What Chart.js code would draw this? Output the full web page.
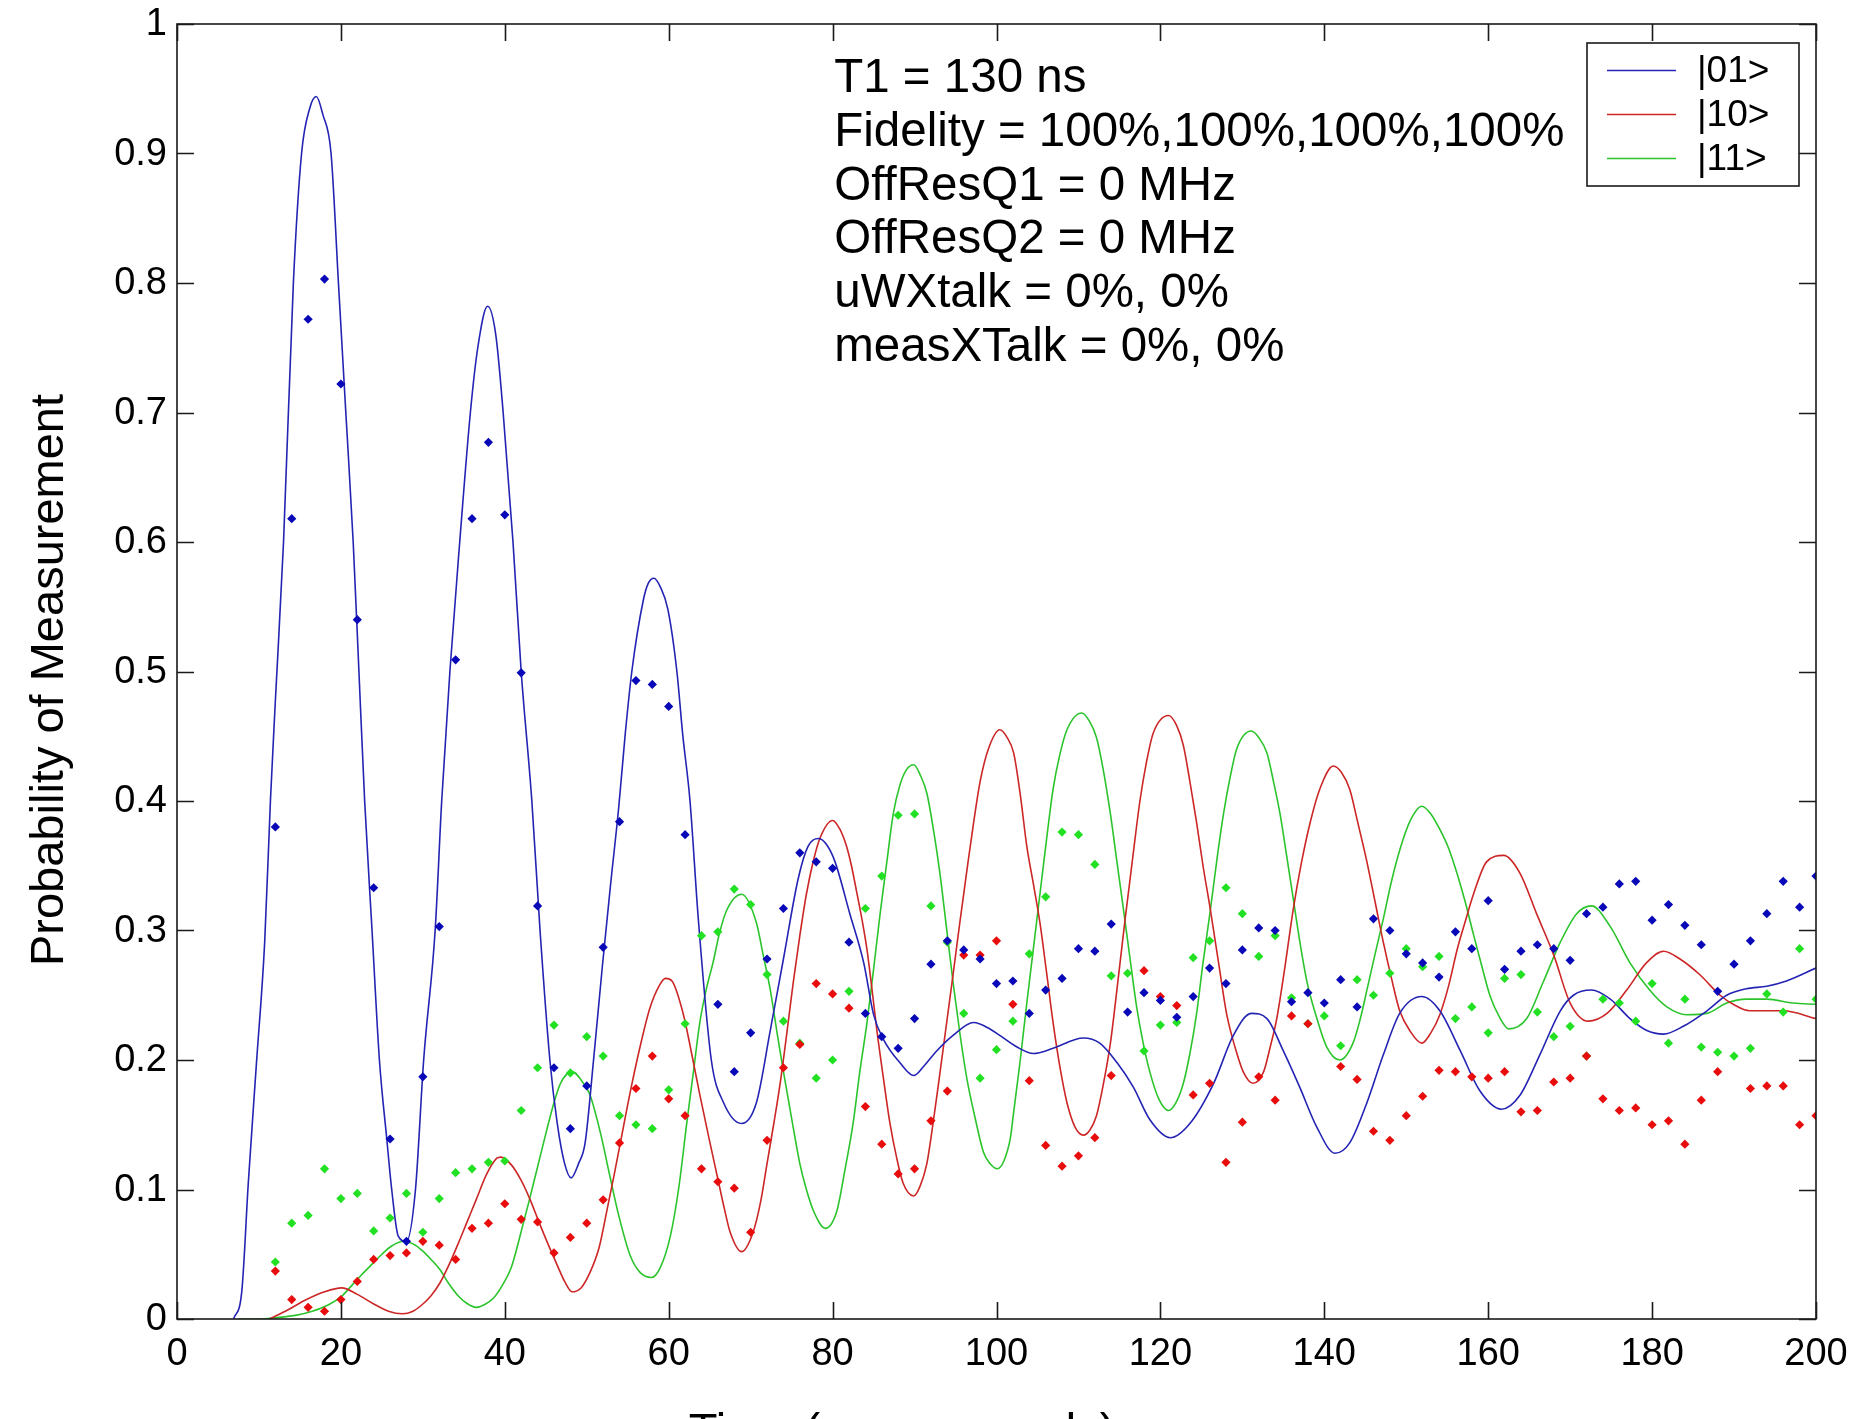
<!DOCTYPE html>
<html>
<head>
<meta charset="utf-8">
<script src="https://cdn.jsdelivr.net/npm/chart.js@4.4.1/dist/chart.umd.min.js"></script>
<style>
  html, body { margin: 0; padding: 0; background: #fff; }
  #wrap { width: 1853px; height: 1419px; }
</style>
</head>
<body>
<div id="wrap"><canvas id="chart" width="1853" height="1419"></canvas></div>
<script>
// axis ticks
const xTicks = [0, 20, 40, 60, 80, 100, 120, 140, 160, 180, 200];
const yTicks = [0, 0.1, 0.2, 0.3, 0.4, 0.5, 0.6, 0.7, 0.8, 0.9, 1];

const legendLabels = ['|01>', '|10>', '|11>'];
const notes = [
  'T1 = 130 ns',
  'Fidelity = 100%,100%,100%,100%',
  'OffResQ1 = 0 MHz',
  'OffResQ2 = 0 MHz',
  'uWXtalk = 0%, 0%',
  'measXTalk = 0%, 0%',
];

// measured points (ns); null = hidden under the curve
const dotTimes = [
  12, 14, 16, 18, 20, 22, 24, 26, 28, 30,
  32, 34, 36, 38, 40, 42, 44, 46, 48, 50,
  52, 54, 56, 58, 60, 62, 64, 66, 68, 70,
  72, 74, 76, 78, 80, 82, 84, 86, 88, 90,
  92, 94, 96, 98, 100, 102, 104, 106, 108, 110,
  112, 114, 116, 118, 120, 122, 124, 126, 128, 130,
  132, 134, 136, 138, 140, 142, 144, 146, 148, 150,
  152, 154, 156, 158, 160, 162, 164, 166, 168, 170,
  172, 174, 176, 178, 180, 182, 184, 186, 188, 190,
  192, 194, 196, 198, 200,
];
const dots01 = [
  0.38, 0.618, 0.772, 0.803, 0.722, 0.54, 0.333, 0.139, 0.06, 0.187,
  0.303, 0.509, 0.618, 0.677, 0.621, 0.499, 0.319, 0.194, 0.147, 0.18,
  0.287, 0.384, 0.493, 0.49, 0.473, 0.374, null, 0.243, 0.191, 0.221,
  0.278, 0.317, 0.36, 0.353, 0.348, 0.291, 0.236, 0.218, 0.209, 0.232,
  0.274, 0.292, 0.285, 0.278, 0.259, 0.261, 0.236, 0.254, 0.263, 0.286,
  0.284, 0.305, 0.237, 0.252, 0.246, 0.233, 0.249, 0.271, 0.259, 0.285,
  0.302, 0.3, 0.245, 0.252, 0.244, 0.262, 0.241, 0.309, 0.3, 0.282,
  0.275, 0.264, 0.299, 0.286, 0.323, 0.27, 0.284, 0.289, 0.286, 0.277,
  0.313, 0.318, 0.336, 0.338, 0.308, 0.32, 0.304, 0.289, 0.253, 0.274,
  0.292, 0.313, 0.338, 0.318, 0.342,
];
const dots10 = [
  0.037, 0.015, 0.009, 0.006, 0.015, 0.029, 0.046, 0.049, 0.051, 0.06,
  0.057, 0.046, 0.07, 0.074, 0.089, 0.077, 0.075, 0.051, 0.063, 0.074,
  0.092, 0.136, 0.178, 0.203, 0.17, 0.157, 0.116, 0.106, 0.101, 0.067,
  0.138, 0.194, 0.212, 0.259, 0.251, 0.24, 0.164, 0.135, 0.112, 0.116,
  0.153, 0.176, 0.281, 0.281, 0.292, 0.243, 0.184, 0.134, 0.118, 0.126,
  0.14, 0.188, null, 0.269, 0.249, 0.242, 0.173, 0.182, 0.121, 0.152,
  0.187, 0.169, 0.234, 0.228, null, 0.195, 0.185, 0.145, 0.138, 0.157,
  0.172, 0.192, 0.191, 0.187, 0.186, 0.191, 0.16, 0.161, 0.183, 0.186,
  0.203, 0.17, 0.161, 0.163, 0.15, 0.153, 0.135, 0.169, 0.191, null,
  0.178, 0.18, 0.18, 0.15, 0.157,
];
const dots11 = [
  0.044, 0.074, 0.08, 0.116, 0.093, 0.097, 0.068, 0.078, 0.097, 0.067,
  0.093, 0.113, 0.116, 0.121, 0.122, 0.161, 0.194, 0.227, 0.19, 0.218,
  0.203, 0.157, 0.15, 0.147, 0.177, 0.228, 0.296, 0.299, 0.332, 0.32,
  0.266, 0.23, 0.213, 0.186, 0.2, 0.253, 0.317, 0.342, 0.389, 0.39,
  0.319, 0.291, 0.236, 0.186, 0.208, 0.23, 0.282, 0.326, 0.376, 0.374,
  0.351, 0.265, 0.267, 0.207, 0.227, 0.229, 0.279, 0.292, 0.333, 0.313,
  0.28, 0.296, 0.248, 0.228, 0.234, 0.211, 0.262, 0.25, 0.267, 0.286,
  0.272, 0.28, 0.232, 0.241, 0.221, 0.263, 0.266, 0.237, 0.218, 0.226,
  0.203, 0.247, 0.244, 0.23, 0.259, 0.213, 0.247, 0.21, 0.206, 0.203,
  0.209, 0.251, 0.237, 0.286, 0.247,
];

// simulated curves
const curve01T = [
  6.9, 7.9, 8.7, 9.7, 10.7, 11.4, 12.0, 13.0, 14.2, 15.2, 16.2, 17.0, 17.8, 18.8, 19.7,
  20.6, 21.5, 22.2, 22.9, 23.8, 24.7, 25.6, 26.2, 27.0, 28.0, 29.1, 30.1, 31.5, 32.3,
  33.3, 34.5, 35.8, 36.7, 37.9, 38.9, 39.8, 41.0, 42.0, 43.3, 44.3, 45.5, 46.4,
  47.3, 48.1, 49.0, 49.8, 50.8, 51.9, 52.9, 53.9, 54.7, 55.5, 56.9, 57.5, 58.2, 59.0,
  59.9, 61.0, 61.7, 62.6, 63.6, 65.2, 66.7, 68.9, 70.7, 72.4, 74.0, 75.8, 77.0, 78.3,
  79.3, 80.3, 82.1, 83.8, 85.0, 86.2, 88.2, 89.9, 91.1, 92.7, 94.7, 97.2, 99.2, 100.4,
  102.5, 104.5, 106.9, 110.6, 112.6, 114.7, 116.7, 118.7, 121.2, 123.6, 126.5, 128.9,
  131.1, 133.0, 135.0, 137.0, 139.1, 141.3, 143.1, 145.2, 147.2, 149.2, 151.9, 154.1,
  156.6, 159.0, 161.6, 163.9, 166.3, 168.8, 170.4, 172.6, 174.9, 177.3, 179.3, 181.4,
  183.8, 186.7, 189.1, 191.5, 194.0, 196.4, 200.0,
];
const curve01P = [
  0, 0.021, 0.105, 0.198, 0.291, 0.4, 0.477, 0.6, 0.8, 0.9, 0.935, 0.944, 0.93, 0.9, 0.8,
  0.7, 0.6, 0.5, 0.4, 0.3, 0.2, 0.139, 0.1, 0.064, 0.06, 0.1, 0.2, 0.3, 0.4,
  0.5, 0.6, 0.7, 0.75, 0.782, 0.76, 0.7, 0.6, 0.5, 0.4, 0.3, 0.2, 0.151,
  0.12, 0.109, 0.12, 0.136, 0.198, 0.272, 0.335, 0.395, 0.452, 0.5, 0.555, 0.568, 0.572, 0.565,
  0.548, 0.5, 0.452, 0.4, 0.31, 0.2, 0.167, 0.151, 0.167, 0.223, 0.278, 0.34, 0.365, 0.371,
  0.366, 0.353, 0.313, 0.275, 0.235, 0.216, 0.198, 0.188, 0.195, 0.207, 0.219, 0.229, 0.224, 0.219,
  0.21, 0.205, 0.209, 0.217, 0.213, 0.198, 0.179, 0.154, 0.14, 0.151, 0.182, 0.219,
  0.236, 0.232, 0.207, 0.179, 0.148, 0.128, 0.136, 0.167, 0.204, 0.236, 0.249, 0.238,
  0.207, 0.176, 0.162, 0.173, 0.204, 0.238, 0.25, 0.254, 0.247, 0.232, 0.223, 0.22,
  0.226, 0.238, 0.25, 0.255, 0.257, 0.261, 0.271,
];
const curve10T = [
  11.3, 13.5, 15.8, 18.0, 20.1, 22.0, 23.9, 25.8, 27.5, 28.8, 29.9, 31.0, 32.1, 33.2,
  34.3, 35.4, 36.5, 37.8, 39.0, 39.5, 40.8, 42.0, 43.1, 44.1, 45.2, 46.3, 47.3, 48.2,
  49.3, 50.4, 51.5, 52.5, 53.3, 54.1, 55.3, 56.5, 57.7, 58.9, 59.6, 60.4, 61.8, 62.8,
  63.8, 64.9, 65.9, 66.8, 67.5, 68.9, 70.3, 71.2, 72.0, 72.8, 73.6, 74.4, 75.2, 76.0,
  76.8, 77.7, 78.5, 80.0, 80.9, 81.7, 82.3, 82.9, 83.6, 84.2, 84.8, 85.4, 86.2, 87.0,
  87.8, 88.6, 89.9, 90.7, 91.5, 92.3, 93.1, 93.9, 94.7, 95.5, 96.4, 97.2, 98.0, 99.0,
  100.4, 101.3, 102.1, 102.9, 103.7, 104.5, 105.3, 106.1, 106.9, 107.7, 108.6, 109.6,
  110.6, 111.4, 112.2, 113.0, 113.9, 114.8, 115.7, 116.6, 117.5, 118.3, 119.1, 121.0,
  122.0, 122.8, 123.6, 124.4, 125.2, 126.1, 127.1, 128.1, 129.1, 130.1, 131.3, 132.6,
  133.4, 134.2, 135.2, 136.2, 137.2, 138.3, 139.5, 141.1, 142.1, 143.1, 144.1, 145.2,
  146.2, 147.2, 148.2, 149.2, 150.5, 151.9, 153.0, 154.1, 155.2, 156.2, 157.2, 158.2,
  159.8, 161.9, 163.9, 165.9, 168.0, 170.0, 172.2, 174.5, 176.9, 179.3, 181.4, 183.4,
  185.8, 188.3, 189.9, 191.9, 196.0, 200.0,
];
const curve10P = [
  0, 0.007, 0.015, 0.021, 0.024, 0.019, 0.012, 0.006, 0.004, 0.006, 0.011, 0.018, 0.028, 0.042,
  0.058, 0.075, 0.092, 0.112, 0.124, 0.125, 0.119, 0.107, 0.092, 0.076, 0.059, 0.043, 0.029, 0.021,
  0.024, 0.036, 0.055, 0.085, 0.11, 0.136, 0.175, 0.21, 0.24, 0.258, 0.263, 0.261, 0.235, 0.205,
  0.173, 0.14, 0.111, 0.085, 0.067, 0.052, 0.067, 0.09, 0.12, 0.15, 0.182, 0.22, 0.26, 0.296,
  0.328, 0.355, 0.372, 0.385, 0.378, 0.365, 0.35, 0.331, 0.308, 0.285, 0.255, 0.223, 0.186, 0.151,
  0.125, 0.105, 0.095, 0.103, 0.12, 0.153, 0.19, 0.228, 0.266, 0.305, 0.347, 0.383, 0.415, 0.44,
  0.455, 0.449, 0.437, 0.405, 0.365, 0.336, 0.306, 0.268, 0.229, 0.196, 0.167, 0.148,
  0.142, 0.146, 0.157, 0.18, 0.213, 0.26, 0.309, 0.355, 0.4, 0.43, 0.452, 0.466,
  0.458, 0.443, 0.415, 0.384, 0.35, 0.316, 0.275, 0.235, 0.21, 0.191, 0.182, 0.191,
  0.21, 0.232, 0.272, 0.316, 0.352, 0.384, 0.41, 0.427, 0.422, 0.409, 0.383, 0.353,
  0.322, 0.291, 0.263, 0.238, 0.222, 0.213, 0.221, 0.235, 0.258, 0.285, 0.307, 0.328,
  0.353, 0.358, 0.344, 0.313, 0.281, 0.244, 0.23, 0.236, 0.254, 0.275, 0.284, 0.278,
  0.266, 0.25, 0.243, 0.238, 0.238, 0.232,
];
const curve11T = [
  7.5, 10.0, 12.0, 14.6, 16.5, 18.5, 20.0, 21.2, 22.5, 23.9, 25.0, 26.1, 27.7, 28.8,
  29.9, 31.0, 32.1, 33.2, 34.3, 35.4, 36.5, 37.5, 38.6, 39.7, 40.8, 41.9, 43.0, 44.1,
  45.2, 46.0, 46.8, 48.2, 49.8, 50.4, 51.7, 52.8, 53.9, 55.3, 56.5, 57.9, 59.0, 60.2,
  61.2, 62.2, 63.0, 63.8, 64.6, 65.4, 66.2, 67.1, 68.9, 70.7, 71.5, 72.4, 73.2, 74.0,
  75.0, 76.0, 76.8, 77.7, 79.1, 80.5, 81.5, 82.5, 83.3, 84.2, 85.0, 85.8, 86.6, 87.4,
  88.2, 89.0, 89.9, 90.7, 91.5, 92.3, 93.1, 93.9, 94.7, 95.5, 96.4, 97.4, 98.4, 99.2,
  100.1, 100.9, 101.7, 102.1, 102.9, 103.7, 104.5, 105.3, 106.1, 106.9, 107.7, 108.6,
  110.4, 111.3, 112.2, 113.0, 113.9, 114.7, 115.5, 116.3, 117.1, 117.9, 118.7, 119.8,
  121.0, 121.9, 122.8, 123.6, 124.4, 125.2, 126.1, 126.9, 127.7, 128.5, 129.3, 131.1,
  132.0, 133.0, 133.8, 134.6, 135.4, 136.2, 137.0, 137.9, 139.1, 140.3, 141.9, 143.5,
  144.4, 145.2, 146.2, 147.2, 148.2, 149.2, 150.5, 151.9, 153.0, 154.1, 155.2, 156.2,
  157.2, 158.2, 159.2, 160.2, 161.3, 162.5, 164.7, 166.7, 168.8, 170.8, 172.6, 174.9,
  177.3, 179.7, 181.8, 184.2, 186.7, 189.1, 191.5, 194.0, 197.2, 200.0,
];
const curve11P = [
  0, 0, 0.001, 0.003, 0.006, 0.011, 0.017, 0.025, 0.034, 0.043, 0.05, 0.056, 0.06, 0.058,
  0.053, 0.046, 0.038, 0.027, 0.018, 0.012, 0.009, 0.011, 0.016, 0.026, 0.04, 0.065, 0.092, 0.12,
  0.148, 0.167, 0.182, 0.191, 0.18, 0.173, 0.143, 0.111, 0.08, 0.049, 0.036, 0.032, 0.04, 0.064,
  0.1, 0.151, 0.19, 0.229, 0.255, 0.275, 0.298, 0.316, 0.328, 0.306, 0.282, 0.254, 0.222, 0.191,
  0.155, 0.12, 0.1, 0.083, 0.07, 0.083, 0.115, 0.151, 0.19, 0.229, 0.27, 0.313, 0.352, 0.39,
  0.412, 0.424, 0.428, 0.42, 0.406, 0.378, 0.344, 0.302, 0.26, 0.222, 0.185, 0.155, 0.129, 0.12,
  0.116, 0.122, 0.14, 0.16, 0.2, 0.244, 0.286, 0.328, 0.37, 0.409, 0.435, 0.455,
  0.468, 0.462, 0.449, 0.425, 0.39, 0.353, 0.316, 0.278, 0.241, 0.213, 0.191, 0.17,
  0.161, 0.167, 0.182, 0.205, 0.235, 0.275, 0.316, 0.355, 0.39, 0.418, 0.44, 0.454,
  0.449, 0.437, 0.415, 0.39, 0.358, 0.325, 0.292, 0.26, 0.232, 0.21, 0.2, 0.213,
  0.232, 0.254, 0.282, 0.309, 0.338, 0.362, 0.385, 0.396, 0.39, 0.378, 0.363, 0.344,
  0.322, 0.297, 0.273, 0.25, 0.234, 0.224, 0.232, 0.26, 0.291, 0.313, 0.319, 0.303,
  0.275, 0.254, 0.241, 0.235, 0.236, 0.244, 0.247, 0.247, 0.244, 0.243,
];

const FONT = '"Liberation Sans", Arial, Helvetica, sans-serif';
const lineColors = ['#2424b4', '#cc2626', '#2cc42c'];
const dotColors = ['#0808b8', '#e80c0c', '#22e022'];

const pairs = (ts, ps) => ts.map((t, i) => ({ x: t, y: ps[i] }));

function curveSet(label, ts, ps, color) {
  return {
    label, data: pairs(ts, ps), showLine: true, borderColor: color, borderWidth: 1.6,
    pointRadius: 0, cubicInterpolationMode: 'monotone', order: 2,
  };
}
function dotSet(label, ps, color) {
  return {
    label, data: pairs(dotTimes, ps), showLine: false, pointStyle: 'rectRot',
    pointRadius: 4.6, pointBorderWidth: 0, backgroundColor: color, borderColor: color, order: 1,
  };
}

// MATLAB-style frame: box, inward ticks, labels, note text and legend
const frame = {
  id: 'frame',
  beforeDraw(chart) {
    const ctx = chart.ctx;
    ctx.save();
    ctx.fillStyle = '#fff';
    ctx.fillRect(0, 0, chart.width, chart.height);
    ctx.restore();
  },
  afterDraw(chart) {
    const ctx = chart.ctx;
    const { left, right, top, bottom } = chart.chartArea;
    const xs = chart.scales.x, ys = chart.scales.y;
    const tick = 17;
    ctx.save();
    ctx.strokeStyle = '#1a1a1a';
    ctx.lineWidth = 1.6;
    ctx.strokeRect(left, top, right - left, bottom - top);

    ctx.beginPath();
    xTicks.forEach(v => {
      const px = Math.round(xs.getPixelForValue(v)) + 0.5;
      ctx.moveTo(px, bottom); ctx.lineTo(px, bottom - tick);
      ctx.moveTo(px, top); ctx.lineTo(px, top + tick);
    });
    yTicks.forEach(v => {
      const py = Math.round(ys.getPixelForValue(v)) + 0.5;
      ctx.moveTo(left, py); ctx.lineTo(left + tick, py);
      ctx.moveTo(right, py); ctx.lineTo(right - tick, py);
    });
    ctx.stroke();

    ctx.fillStyle = '#000';
    ctx.font = `38px ${FONT}`;
    ctx.textAlign = 'center';
    ctx.textBaseline = 'top';
    xTicks.forEach(v => ctx.fillText(String(v), xs.getPixelForValue(v), bottom + 17));
    ctx.textAlign = 'right';
    ctx.textBaseline = 'middle';
    yTicks.forEach(v => ctx.fillText(String(v), left - 10, ys.getPixelForValue(v) + 1));

    // axis titles
    ctx.font = `47px ${FONT}`;
    ctx.textAlign = 'center';
    ctx.textBaseline = 'alphabetic';
    ctx.fillText('Time (nanoseconds)', 902, 1446);
    ctx.save();
    ctx.translate(63, 680);
    ctx.rotate(-Math.PI / 2);
    ctx.fillText('Probability of Measurement', 0, 0);
    ctx.restore();

    // parameter notes
    ctx.font = `47.5px ${FONT}`;
    ctx.textAlign = 'left';
    const nx = xs.getPixelForValue(80.2);
    notes.forEach((s, i) => ctx.fillText(s, nx, 92 + i * 53.8));

    // legend
    const lx = 1587, ly = 43, lw = 212, lh = 143;
    ctx.fillStyle = '#fff';
    ctx.fillRect(lx, ly, lw, lh);
    ctx.strokeStyle = '#1a1a1a';
    ctx.lineWidth = 1.6;
    ctx.strokeRect(lx, ly, lw, lh);
    ctx.font = `37px ${FONT}`;
    ctx.textBaseline = 'middle';
    legendLabels.forEach((s, i) => {
      const y = 70 + i * 44;
      ctx.strokeStyle = lineColors[i];
      ctx.lineWidth = 1.6;
      ctx.beginPath();
      ctx.moveTo(1607, y + 0.5); ctx.lineTo(1676, y + 0.5);
      ctx.stroke();
      ctx.fillStyle = '#000';
      ctx.fillText(s, 1697, y + 2);
    });
    ctx.restore();
  },
};

new Chart(document.getElementById('chart'), {
  type: 'scatter',
  data: {
    datasets: [
      dotSet('|01> data', dots01, dotColors[0]),
      dotSet('|10> data', dots10, dotColors[1]),
      dotSet('|11> data', dots11, dotColors[2]),
      curveSet(legendLabels[0], curve01T, curve01P, lineColors[0]),
      curveSet(legendLabels[1], curve10T, curve10P, lineColors[1]),
      curveSet(legendLabels[2], curve11T, curve11P, lineColors[2]),
    ],
  },
  options: {
    responsive: false,
    animation: false,
    devicePixelRatio: 1,
    layout: { padding: { left: 177, top: 24, right: 37, bottom: 100 } },
    scales: {
      x: { type: 'linear', min: 0, max: 200, display: false },
      y: { type: 'linear', min: 0, max: 1, display: false },
    },
    plugins: { legend: { display: false }, tooltip: { enabled: false } },
  },
  plugins: [frame],
});
</script>
</body>
</html>
